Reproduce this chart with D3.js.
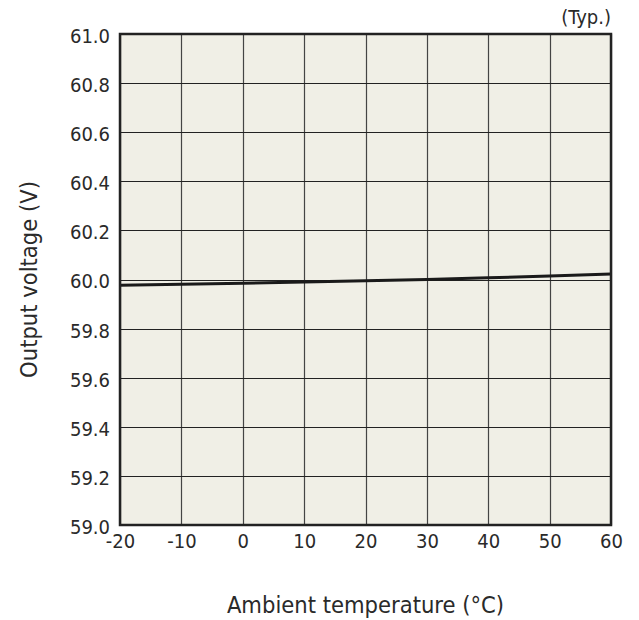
<!DOCTYPE html>
<html><head><meta charset="utf-8">
<script src="https://cdn.jsdelivr.net/npm/d3@7"></script>
<style>body{margin:0;background:#fff}svg{display:block}text{font-family:"DejaVu Sans Condensed","DejaVu Sans",Verdana,sans-serif;fill:#2a2a2a}</style>
</head><body>
<script>
const temps = [-20, -10, 0, 10, 20, 30, 40, 50, 60];
const voltage = [59.977, 59.981, 59.985, 59.99, 59.995, 60.0, 60.007, 60.014, 60.022];
const xTicks = [-20, -10, 0, 10, 20, 30, 40, 50, 60];
const yTicks = [59.0, 59.2, 59.4, 59.6, 59.8, 60.0, 60.2, 60.4, 60.6, 60.8, 61.0];

const FONT = "DejaVu Sans Condensed, DejaVu Sans, Verdana, sans-serif";
const W = 639, H = 620;
const m = {l: 120, r: 28, t: 34, b: 95};
const svg = d3.select("body").append("svg").attr("width", W).attr("height", H);
const x = d3.scaleLinear().domain([-20, 60]).range([m.l, W - m.r]);
const y = d3.scaleLinear().domain([59.0, 61.0]).range([H - m.b, m.t]);

svg.append("rect").attr("x", x(-20)).attr("y", y(61)).attr("width", x(60) - x(-20)).attr("height", y(59) - y(61)).attr("fill", "#f0efe6");

const g = svg.append("g");
g.selectAll(".vg").data(xTicks).join("line")
  .attr("x1", d => Math.round(x(d)) + 0.5).attr("x2", d => Math.round(x(d)) + 0.5)
  .attr("y1", y(61)).attr("y2", y(59)).attr("stroke", "#444").attr("stroke-width", 1.2);
g.selectAll(".hg").data(yTicks).join("line")
  .attr("y1", d => Math.round(y(d)) + 0.5).attr("y2", d => Math.round(y(d)) + 0.5)
  .attr("x1", x(-20)).attr("x2", x(60)).attr("stroke", "#222").attr("stroke-width", 1.2);

const line = d3.line().x((d, i) => x(temps[i])).y(d => y(d));
svg.append("path").datum(voltage).attr("d", line).attr("fill", "none").attr("stroke", "#1a1a1a").attr("stroke-width", 3);

svg.append("rect").attr("x", x(-20)).attr("y", y(61)).attr("width", x(60) - x(-20)).attr("height", y(59) - y(61))
  .attr("fill", "none").attr("stroke", "#222").attr("stroke-width", 2.5);

const xa = svg.append("g").attr("transform", `translate(0,${y(59)})`)
  .call(d3.axisBottom(x).tickValues(xTicks).tickSize(0).tickPadding(9).tickFormat(d => String(d)));
xa.select(".domain").remove();
xa.selectAll("text").attr("font-size", 20).attr("fill", "#2a2a2a").attr("font-family", FONT);

const ya = svg.append("g").attr("transform", `translate(${x(-20)},0)`)
  .call(d3.axisLeft(y).tickValues(yTicks).tickSize(0).tickPadding(10).tickFormat(d3.format(".1f")));
ya.select(".domain").remove();
ya.selectAll("text").attr("font-size", 20).attr("fill", "#2a2a2a").attr("font-family", FONT).attr("dy", "0.42em");

svg.append("text").attr("x", x(60)).attr("y", 24).attr("text-anchor", "end").attr("font-size", 20).text("(Typ.)");
svg.append("text").attr("x", (x(-20) + x(60)) / 2).attr("y", 613).attr("text-anchor", "middle").attr("font-size", 23.5).text("Ambient temperature (°C)");
svg.append("text").attr("transform", `translate(37,${(y(59) + y(61)) / 2}) rotate(-90)`).attr("text-anchor", "middle").attr("font-size", 23.5).text("Output voltage (V)");
</script>
</body></html>
